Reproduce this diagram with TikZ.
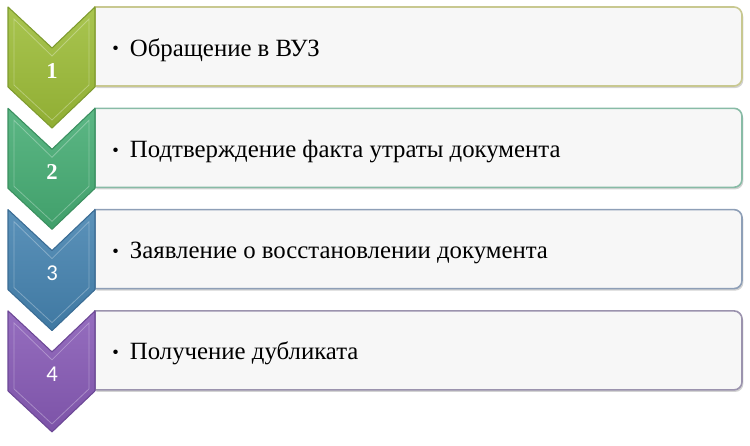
\documentclass[tikz,border=0pt]{standalone}
\usepackage{fontspec}
\setmainfont{Liberation Serif}
\newfontfamily\numsans{Carlito}
\usetikzlibrary{shadows}

\definecolor{boxfill}{HTML}{F7F7F7}
\definecolor{stepA}{HTML}{9DBD38}
\definecolor{edgeA}{HTML}{7E9B2E}
\definecolor{lineA}{HTML}{C8C890}
\definecolor{stepB}{HTML}{46AD74}
\definecolor{edgeB}{HTML}{3A8F5F}
\definecolor{lineB}{HTML}{88BBA6}
\definecolor{stepC}{HTML}{4583B0}
\definecolor{edgeC}{HTML}{3A6C94}
\definecolor{lineC}{HTML}{8E9FB7}
\definecolor{stepD}{HTML}{875AB6}
\definecolor{edgeD}{HTML}{6C4896}
\definecolor{lineD}{HTML}{9B93AE}

\newcommand{\itemdot}{{\fontsize{14}{14}\selectfont\raisebox{0.15ex}{\textbullet}}}

\tikzset{
  itembox/.style={fill=boxfill, line width=1.2pt,
    drop shadow={shadow xshift=1pt, shadow yshift=-1.5pt, opacity=0.35}},
  chevron/.style={line width=0.8pt, line join=round},
  numlabel/.style={text=white, anchor=base},
  itemtext/.style={anchor=base west, inner sep=0pt, font=\fontsize{18.6}{20}\selectfont}
}

\begin{document}
\begin{tikzpicture}[x=0.75pt, y=-0.75pt]
  \useasboundingbox (0,0) rectangle (750,446);

  \foreach \i/\c/\e/\l/\f/\t in {
      0/stepA/edgeA/lineA/\bfseries/{Обращение в ВУЗ},
      1/stepB/edgeB/lineB/\bfseries/{Подтверждение факта утраты документа},
      2/stepC/edgeC/lineC/\numsans/{Заявление о восстановлении документа},
      3/stepD/edgeD/lineD/\numsans/{Получение дубликата}} {
    \pgfmathsetmacro{\T}{7+101.3*\i}
    \pgfmathtruncatemacro{\n}{\i+1}
    \draw[itembox, draw=\l] (95,\T+79) -- (95,\T) [rounded corners=6pt]
      -- (742,\T) -- (742,\T+79) [sharp corners] -- cycle;
    \node[itemtext] (item\n) at (112,\T+49) {\itemdot\hspace{0.45em}\t};
    \draw[chevron, draw=\e, top color=\c!88!white, bottom color=\c!92!black]
      (8,\T) -- (52,\T+41) -- (95,\T) -- (95,\T+80)
      -- (52,\T+121) -- (8,\T+80) -- cycle;
    \draw[white, opacity=0.3, line width=0.6pt]
      (14,\T+12) -- (52,\T+49) -- (89,\T+12) -- (89,\T+78)
      -- (52,\T+113) -- (14,\T+78) -- cycle;
    \node[numlabel, font=\f\fontsize{17}{17}\selectfont] (num\n) at (52,\T+71) {\n};
  }
\end{tikzpicture}
\end{document}
